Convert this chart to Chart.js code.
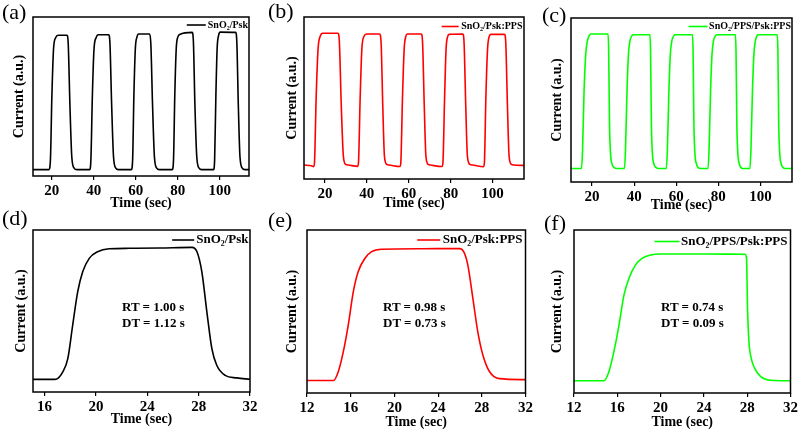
<!DOCTYPE html>
<html>
<head>
<meta charset="utf-8">
<script src="https://cdn.jsdelivr.net/npm/chart.js@4.4.0/dist/chart.umd.min.js"></script>
<style>
html, body { margin: 0; padding: 0; background: #fff; }
#fig { position: relative; width: 800px; height: 432px; overflow: hidden; font-family: 'Liberation Serif', 'Times New Roman', serif; color: #000; }
#fig canvas { position: absolute; }
.tag { position: absolute; font-size: 22px; line-height: 22px; }
.note { position: absolute; font-size: 13px; font-weight: bold; line-height: 15.5px; white-space: nowrap; }
</style>
</head>
<body>
<div id="fig">
    <canvas id="chartA" width="262" height="216" style="left:0;top:0"></canvas>
    <canvas id="chartB" width="265" height="216" style="left:265px;top:0"></canvas>
    <canvas id="chartC" width="270" height="216" style="left:530px;top:0"></canvas>
    <canvas id="chartD" width="262" height="216" style="left:0;top:216px"></canvas>
    <canvas id="chartE" width="270" height="216" style="left:265px;top:216px"></canvas>
    <canvas id="chartF" width="270" height="216" style="left:530px;top:216px"></canvas>

    <div class="tag" style="left:2px;top:1px">(a)</div>
    <div class="tag" style="left:268px;top:0">(b)</div>
    <div class="tag" style="left:542px;top:4px">(c)</div>
    <div class="tag" style="left:2px;top:207px">(d)</div>
    <div class="tag" style="left:268px;top:209px">(e)</div>
    <div class="tag" style="left:544px;top:212px">(f)</div>

    <div class="note" style="left:122px;top:299px">RT = 1.00 s<br>DT = 1.12 s</div>
    <div class="note" style="left:383px;top:299px">RT = 0.98 s<br>DT = 0.73 s</div>
    <div class="note" style="left:661px;top:299px">RT = 0.74 s<br>DT = 0.09 s</div>
</div>
<script>
// tick labels
const ticksCycle = [20, 40, 60, 80, 100];
const ticksD = [16, 20, 24, 28, 32];
const ticksEF = [12, 16, 20, 24, 28, 32];

// (a) SnO2/Psk, five on/off cycles
const timeA = [11, 18.6, 19.3, 20.0, 20.8, 21.8, 23.0, 27.2, 27.8, 28.6, 29.5, 30.6, 31.9,
    38.0, 38.6, 39.3, 40.1, 41.1, 42.2, 47.1, 47.7, 48.5, 49.4, 50.5, 51.7,
    57.9, 58.5, 59.1, 59.8, 60.6, 61.4, 66.6, 67.2, 68.0, 68.9, 70.0, 71.2,
    77.4, 78.0, 78.6, 79.3, 80.1, 81.0, 86.9, 87.5, 88.2, 89.1, 90.2, 91.4,
    97.1, 97.6, 98.2, 98.8, 99.5, 100.3, 107.6, 108.2, 108.9, 109.7, 110.8, 112.0, 114];
const currentA = [0.04, 0.04, 0.1, 0.5, 0.8, 0.87, 0.885, 0.885, 0.83, 0.45, 0.12, 0.05, 0.04,
    0.04, 0.1, 0.5, 0.8, 0.87, 0.888, 0.888, 0.83, 0.45, 0.12, 0.05, 0.04,
    0.04, 0.1, 0.5, 0.8, 0.875, 0.893, 0.893, 0.83, 0.45, 0.12, 0.05, 0.04,
    0.04, 0.1, 0.5, 0.8, 0.875, 0.89, 0.903, 0.84, 0.45, 0.12, 0.05, 0.04,
    0.04, 0.1, 0.5, 0.8, 0.885, 0.905, 0.903, 0.84, 0.45, 0.12, 0.05, 0.04, 0.04];

// (b) SnO2/Psk:PPS
const timeB = [10, 13.5, 14.6, 15.0, 15.8, 16.7, 17.7, 18.9, 26.2, 26.9, 27.8, 28.8, 29.9, 31.1,
    35.6, 36.0, 36.8, 37.6, 38.6, 39.9, 46.1, 46.8, 47.6, 48.4, 49.5, 50.7,
    55.8, 56.2, 57.0, 57.8, 58.6, 59.3, 66.0, 66.6, 67.4, 68.2, 69.3, 70.4,
    75.9, 76.3, 77.1, 77.8, 78.6, 79.2, 85.8, 86.4, 87.2, 88.0, 89.2, 90.5,
    95.7, 96.1, 96.8, 97.6, 98.4, 99.1, 105.7, 106.3, 107.1, 107.9, 109.0, 110.2, 115];
const currentB = [0.086, 0.082, 0.076, 0.1, 0.5, 0.8, 0.88, 0.9, 0.9, 0.84, 0.45, 0.14, 0.09, 0.086,
    0.078, 0.1, 0.5, 0.8, 0.88, 0.895, 0.895, 0.84, 0.45, 0.14, 0.09, 0.086,
    0.077, 0.1, 0.5, 0.8, 0.88, 0.895, 0.895, 0.84, 0.45, 0.14, 0.09, 0.086,
    0.077, 0.1, 0.5, 0.8, 0.88, 0.893, 0.895, 0.84, 0.45, 0.14, 0.09, 0.086,
    0.076, 0.1, 0.5, 0.8, 0.88, 0.893, 0.893, 0.84, 0.45, 0.14, 0.09, 0.086, 0.084];

// (c) SnO2/PPS/Psk:PPS
const timeC = [10, 15.0, 15.5, 16.2, 17.0, 17.8, 18.8, 19.5, 27.6, 27.9, 28.3, 28.8, 29.5, 30.5, 31.6,
    35.4, 35.9, 36.6, 37.3, 38.0, 39.0, 39.6, 47.5, 47.8, 48.2, 48.7, 49.4, 50.4, 51.5,
    55.3, 55.8, 56.5, 57.2, 57.9, 58.9, 59.5, 67.7, 68.0, 68.4, 68.9, 69.6, 70.4, 71.4,
    75.1, 75.6, 76.3, 77.0, 77.7, 78.7, 79.3, 88.1, 88.4, 88.8, 89.3, 90.0, 90.7, 91.6,
    95.0, 95.5, 96.2, 96.9, 97.6, 98.4, 98.9, 108.0, 108.3, 108.7, 109.2, 109.9, 110.7, 111.6, 115];
const currentC = [0.082, 0.082, 0.2, 0.55, 0.78, 0.86, 0.895, 0.902, 0.902, 0.8, 0.35, 0.17, 0.11, 0.088, 0.082,
    0.082, 0.2, 0.55, 0.78, 0.86, 0.893, 0.898, 0.898, 0.8, 0.35, 0.17, 0.11, 0.088, 0.082,
    0.082, 0.2, 0.55, 0.78, 0.86, 0.893, 0.898, 0.898, 0.8, 0.35, 0.17, 0.11, 0.088, 0.082,
    0.082, 0.2, 0.55, 0.78, 0.86, 0.893, 0.898, 0.898, 0.8, 0.35, 0.17, 0.11, 0.088, 0.082,
    0.082, 0.2, 0.55, 0.78, 0.86, 0.893, 0.898, 0.898, 0.8, 0.35, 0.17, 0.11, 0.088, 0.082, 0.082];

// (d)-(f) single cycle, zoomed
const timeD = [15.1, 16.6, 16.9, 17.42, 17.81, 18.19, 18.58, 18.97, 19.48, 20.13, 21.03, 22.58, 25.0,
    27.48, 27.87, 28.25, 28.64, 29.03, 29.41, 30.06, 30.96, 32];
const currentD = [0.078, 0.078, 0.079, 0.124, 0.206, 0.412, 0.618, 0.742, 0.825, 0.866, 0.884, 0.887, 0.889,
    0.893, 0.866, 0.742, 0.495, 0.268, 0.165, 0.103, 0.087, 0.078];

const timeE = [12, 14.42, 14.87, 15.33, 15.78, 16.24, 16.69, 17.31, 17.92, 18.83, 22.5,
    25.97, 26.42, 26.72, 27.18, 27.63, 28.09, 28.70, 29.61, 32];
const currentE = [0.077, 0.077, 0.132, 0.255, 0.418, 0.622, 0.745, 0.827, 0.867, 0.882, 0.885,
    0.886, 0.857, 0.786, 0.582, 0.377, 0.235, 0.132, 0.088, 0.082];

const timeF = [12, 14.77, 15.23, 15.69, 16.16, 16.62, 17.08, 17.69, 18.31, 19.07, 20.0, 24.0,
    27.79, 27.94, 28.03, 28.16, 28.37, 28.68, 29.23, 30.15, 32];
const currentF = [0.075, 0.075, 0.132, 0.255, 0.418, 0.602, 0.704, 0.786, 0.827, 0.847, 0.853, 0.853,
    0.851, 0.827, 0.52, 0.316, 0.214, 0.153, 0.102, 0.078, 0.075];

const SERIF = "'Liberation Serif', 'Times New Roman', serif";

// box around the plot area (top and right sides included)
const frame = {
    id: 'frame',
    afterDraw(chart) {
        const a = chart.chartArea;
        const ctx = chart.ctx;
        ctx.save();
        ctx.strokeStyle = '#000';
        ctx.lineWidth = 1.5;
        ctx.strokeRect(a.left, a.top, a.right - a.left, a.bottom - a.top);
        ctx.restore();
    }
};

// one-entry legend in the top right corner of the plot
const cornerLegend = {
    id: 'cornerLegend',
    afterDraw(chart, args, opts) {
        const ds = chart.data.datasets[0];
        const a = chart.chartArea;
        const ctx = chart.ctx;
        ctx.save();
        ctx.font = 'bold ' + opts.size + 'px ' + SERIF;
        const textX = a.right - opts.pad - ctx.measureText(ds.label).width;
        const y = a.top + opts.dy;
        ctx.strokeStyle = ds.borderColor;
        ctx.lineWidth = ds.borderWidth;
        ctx.beginPath();
        ctx.moveTo(textX - opts.gap - opts.line, y);
        ctx.lineTo(textX - opts.gap, y);
        ctx.stroke();
        ctx.fillStyle = '#000';
        ctx.textBaseline = 'middle';
        ctx.fillText(ds.label, textX, y);
        ctx.restore();
    }
};

function panel(id, cfg) {
    new Chart(document.getElementById(id), {
        type: 'line',
        data: {
            datasets: [{
                label: cfg.label,
                data: cfg.time.map((t, i) => ({ x: t, y: cfg.current[i] })),
                borderColor: cfg.color,
                borderWidth: 1.6,
                pointRadius: 0,
                cubicInterpolationMode: 'monotone',
                fill: false,
            }],
        },
        options: {
            responsive: false,
            animation: false,
            events: [],
            layout: { padding: cfg.pad },
            plugins: {
                tooltip: { enabled: false },
                legend: { display: false },
                cornerLegend: cfg.legend,
            },
            scales: {
                x: {
                    type: 'linear',
                    min: cfg.xRange[0],
                    max: cfg.xRange[1],
                    afterBuildTicks: s => { s.ticks = cfg.ticks.map(v => ({ value: v })); },
                    afterFit: s => { s.height = cfg.xHeight; },
                    border: { display: false },
                    grid: { drawOnChartArea: false, tickLength: 4, color: '#000', lineWidth: 1.2 },
                    ticks: { color: '#000', padding: 2, maxRotation: 0, autoSkip: false, font: { family: SERIF, weight: 'bold', size: 15 } },
                    title: {
                        display: true, text: 'Time (sec)', color: '#000',
                        padding: { top: 0, bottom: cfg.xTitlePad },
                        font: { family: SERIF, weight: 'bold', size: 14 },
                    },
                },
                y: {
                    min: 0,
                    max: 1,
                    afterFit: s => { s.width = cfg.yWidth; },
                    border: { display: false },
                    grid: { display: false },
                    ticks: { display: false },
                    title: {
                        display: true, text: 'Current (a.u.)', color: '#000',
                        padding: { top: cfg.yTitlePad, bottom: 0 },
                        font: { family: SERIF, weight: 'bold', size: 14 },
                    },
                },
            },
        },
        plugins: [frame, cornerLegend],
    });
}

panel('chartA', {
    label: 'SnO₂/Psk', color: '#000000', time: timeA, current: currentA,
    xRange: [11, 114], ticks: ticksCycle,
    pad: { top: 17, right: 13, left: 0, bottom: 0 }, yWidth: 33, xHeight: 40,
    xTitlePad: 4, yTitlePad: 11,
    legend: { size: 10, pad: 1, dy: 8, gap: 2, line: 19 },
});
panel('chartB', {
    label: 'SnO₂/Psk:PPS', color: '#ff0000', time: timeB, current: currentB,
    xRange: [10, 115], ticks: ticksCycle,
    pad: { top: 17, right: 6, left: 0, bottom: 0 }, yWidth: 39, xHeight: 37,
    xTitlePad: 4, yTitlePad: 19,
    legend: { size: 10, pad: 1.5, dy: 9.5, gap: 2.5, line: 17 },
});
panel('chartC', {
    label: 'SnO₂/PPS/Psk:PPS', color: '#00ff00', time: timeC, current: currentC,
    xRange: [10, 115], ticks: ticksCycle,
    pad: { top: 18, right: 8, left: 0, bottom: 0 }, yWidth: 41, xHeight: 34,
    xTitlePad: 2.5, yTitlePad: 19,
    legend: { size: 10, pad: 1, dy: 8.5, gap: 1.5, line: 19 },
});
panel('chartD', {
    label: 'SnO₂/Psk', color: '#000000', time: timeD, current: currentD,
    xRange: [15.1, 32], ticks: ticksD,
    pad: { top: 14, right: 12, left: 0, bottom: 0 }, yWidth: 33, xHeight: 40,
    xTitlePad: 4, yTitlePad: 12.5,
    legend: { size: 13, pad: 1.5, dy: 10, gap: 2, line: 22 },
});
panel('chartE', {
    label: 'SnO₂/Psk:PPS', color: '#ff0000', time: timeE, current: currentE,
    xRange: [12, 32], ticks: ticksEF,
    pad: { top: 14, right: 9, left: 0, bottom: 0 }, yWidth: 42, xHeight: 39,
    xTitlePad: 1, yTitlePad: 19,
    legend: { size: 13, pad: 3, dy: 10, gap: 2.5, line: 23 },
});
panel('chartF', {
    label: 'SnO₂/PPS/Psk:PPS', color: '#00ff00', time: timeF, current: currentF,
    xRange: [12, 32], ticks: ticksEF,
    pad: { top: 14, right: 7, left: 0, bottom: 0 }, yWidth: 44, xHeight: 39,
    xTitlePad: 1, yTitlePad: 19,
    legend: { size: 13, pad: 3, dy: 11.5, gap: 1.5, line: 25 },
});
</script>
</body>
</html>
